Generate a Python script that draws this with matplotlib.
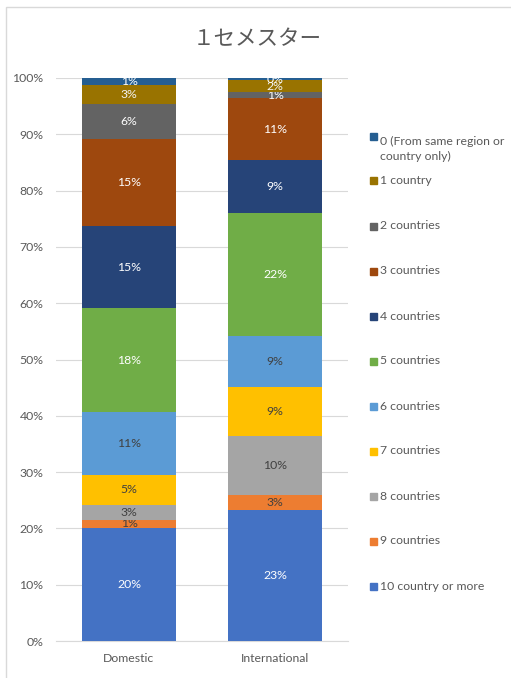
import matplotlib
matplotlib.use("Agg")
import matplotlib.pyplot as plt
import numpy as np
from matplotlib.patches import Rectangle

plt.rcParams['font.family'] = ['Lato', 'Noto Sans CJK JP', 'DejaVu Sans']

title = "１セメスター"
groups = ["Domestic", "International"]
series = ["10 country or more", "9 countries", "8 countries", "7 countries",
          "6 countries", "5 countries", "4 countries", "3 countries",
          "2 countries", "1 country", "0 (From same region or\ncountry only)"]
domestic = [20.1, 1.4, 2.7, 5.3, 11.2, 18.4, 14.6, 15.4, 6.2, 3.4, 1.3]
international = [23.3, 2.7, 10.4, 8.7, 9.1, 21.8, 9.4, 11.0, 1.1, 2.1, 0.4]
colors = ["#4472C4", "#ED7D31", "#A5A5A5", "#FFC000", "#5B9BD5", "#70AD47",
          "#264478", "#9E480E", "#636363", "#997300", "#255E91"]
label_colors = ["white", "#404040", "#404040", "#404040", "#404040", "white",
                "white", "white", "white", "#F2F2F2", "white"]

W, H = 511, 678
fig = plt.figure(figsize=(W / 100, H / 100), dpi=100)
ax = fig.add_axes([56 / W, 1 - 641 / H, (348 - 56) / W, (641 - 78) / H])

x = np.arange(len(groups))
bottom = np.zeros(len(groups))
for i, name in enumerate(series):
    vals = np.array([domestic[i], international[i]])
    bars = ax.bar(x, vals, 0.644, bottom=bottom, color=colors[i], zorder=3)
    ax.bar_label(bars, labels=[f"{v:.0f}%" for v in vals], label_type='center',
                 color=label_colors[i], fontsize=8.8)
    bottom += vals

ax.set_xlim(-0.5, 1.5)
ax.set_ylim(0, 100)
ax.set_yticks(np.arange(0, 101, 10))
ax.set_yticklabels([f"{t}%" for t in range(0, 101, 10)])
ax.set_xticks(x)
ax.set_xticklabels(groups)
ax.tick_params(length=0, colors="#595959", labelsize=8.8)
ax.tick_params(axis='y', pad=9)
ax.tick_params(axis='x', pad=9)
ax.yaxis.grid(True, color="#D9D9D9", lw=0.8, zorder=0)
for s in ["top", "left", "right"]:
    ax.spines[s].set_visible(False)
ax.spines["bottom"].set_color("#D9D9D9")

fig.text(257 / W, 1 - 39 / H, title, ha='center', va='center',
         fontsize=15.5, color="#595959")

# legend drawn by hand, top entry first
leg_y = [136, 181, 226, 271, 316, 361, 406, 451, 496, 541, 586]
for i, yy in zip(range(len(series) - 1, -1, -1), leg_y):
    fig.patches.append(Rectangle((370 / W, 1 - (yy + 3.5) / H), 7 / W, 7 / H,
                                 transform=fig.transFigure, color=colors[i]))
    fig.text(380 / W, 1 - yy / H, series[i], ha='left', va='top' if '\n' in series[i] else 'center',
             fontsize=8.8, color="#595959", linespacing=1.45)

# chart border (cut off on the right and bottom)
fig.patches.append(Rectangle((6 / W, -0.1), 1.2, 1 - 7 / H + 0.1,
                             transform=fig.transFigure, fill=False,
                             edgecolor="#D9D9D9", lw=1))

fig.savefig("out.png", dpi=100)
